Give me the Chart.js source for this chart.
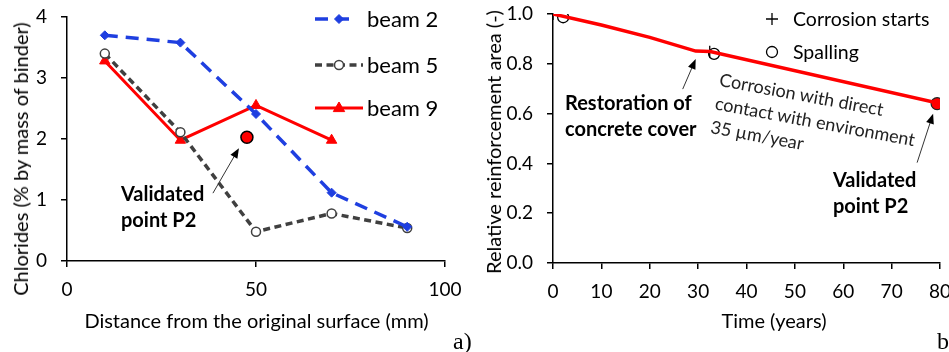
<!DOCTYPE html>
<html><head><meta charset="utf-8">
<script src="https://cdn.jsdelivr.net/npm/chart.js"></script>
<style>
html,body{margin:0;padding:0;background:#fff;}
body{width:949px;height:352px;position:relative;overflow:hidden;font-family:Lato,"Open Sans",sans-serif;color:#000;}
canvas{position:absolute;top:0;}
.t{position:absolute;white-space:nowrap;line-height:1.2;}
</style></head><body>
<canvas id="c1" width="470" height="352" style="left:0"></canvas>
<canvas id="c2" width="479" height="352" style="left:470px"></canvas>
<div id="txt"></div>
<script>
// ---------- data: chart a) ----------
const distanceMm = [10, 30, 50, 70, 90];
const beam2 = [3.70, 3.58, 2.41, 1.12, 0.56];
const beam5 = [3.40, 2.11, 0.48, 0.78, 0.54];
const distanceBeam9 = [10, 30, 50, 70];
const beam9 = [3.28, 1.98, 2.55, 1.98];
const validatedLeft = [47.6, 2.03];
const xTicksLeft = [0, 50, 100];
const yTicksLeft = [0, 1, 2, 3, 4];

// ---------- data: chart b) ----------
const timeYears = [0, 10, 20, 29.5, 32.5, 80];
const relArea = [1.0, 0.956, 0.906, 0.851, 0.849, 0.64];
const spallingTime = [2.1, 33.3];
const spallingArea = [0.987, 0.840];
const corrosionTime = [0, 32.4];
const corrosionArea = [1.0, 0.848];
const validatedRight = [79.4, 0.64];
const xTicksRight = [0, 10, 20, 30, 40, 50, 60, 70, 80];
const yTicksRight = [0, 0.2, 0.4, 0.6, 0.8, 1.0];

const FONT = 'Lato';
const pts = (xs, ys) => xs.map((x, i) => ({x, y: ys[i]}));

function drawArrow(ctx, fx, fy, tx, ty) {
  const ang = Math.atan2(ty - fy, tx - fx);
  const L = 10, W = 4;
  ctx.save();
  ctx.strokeStyle = '#333'; ctx.lineWidth = 1;
  ctx.beginPath(); ctx.moveTo(fx, fy);
  ctx.lineTo(tx - Math.cos(ang) * L * 0.8, ty - Math.sin(ang) * L * 0.8); ctx.stroke();
  ctx.fillStyle = '#000';
  ctx.beginPath();
  ctx.moveTo(tx, ty);
  ctx.lineTo(tx - L * Math.cos(ang) + W * Math.sin(ang), ty - L * Math.sin(ang) - W * Math.cos(ang));
  ctx.lineTo(tx - L * Math.cos(ang) - W * Math.sin(ang), ty - L * Math.sin(ang) + W * Math.cos(ang));
  ctx.closePath(); ctx.fill();
  ctx.restore();
}

function drawMarker(ctx, style, x, y, r, fill, stroke, lw) {
  ctx.save();
  ctx.fillStyle = fill; ctx.strokeStyle = stroke; ctx.lineWidth = lw; ctx.setLineDash([]);
  ctx.beginPath();
  if (style === 'rectRot') {
    ctx.moveTo(x, y - r); ctx.lineTo(x + r, y); ctx.lineTo(x, y + r); ctx.lineTo(x - r, y); ctx.closePath();
    ctx.fill(); ctx.stroke();
  } else if (style === 'triangle') {
    ctx.moveTo(x, y - r); ctx.lineTo(x + r * 0.95, y + r * 0.6); ctx.lineTo(x - r * 0.95, y + r * 0.6); ctx.closePath();
    ctx.fill(); ctx.stroke();
  } else if (style === 'cross') {
    ctx.moveTo(x - r, y); ctx.lineTo(x + r, y); ctx.moveTo(x, y - r); ctx.lineTo(x, y + r); ctx.stroke();
  } else {
    ctx.arc(x, y, r, 0, Math.PI * 2); if (fill !== 'transparent') ctx.fill(); ctx.stroke();
  }
  ctx.restore();
}

const annot = {
  id: 'annot',
  afterDatasetsDraw(chart, args, opts) {
    const ctx = chart.ctx, xs = chart.scales.x, ys = chart.scales.y;
    (opts.arrows || []).forEach(a => {
      const tx = xs.getPixelForValue(a.at[0]) + a.tip[0];
      const ty = ys.getPixelForValue(a.at[1]) + a.tip[1];
      drawArrow(ctx, tx + a.tail[0], ty + a.tail[1], tx, ty);
    });
    (opts.legend || []).forEach(l => {
      const ds = chart.data.datasets[l.ds];
      if (l.line) {
        ctx.save();
        ctx.strokeStyle = ds.borderColor; ctx.lineWidth = ds.borderWidth;
        ctx.setLineDash(ds.borderDash || []);
        ctx.beginPath(); ctx.moveTo(l.x0, l.y); ctx.lineTo(l.x1, l.y); ctx.stroke();
        ctx.restore();
      }
      drawMarker(ctx, ds.pointStyle, l.xm, l.y, ds.pointRadius,
        ds.pointBackgroundColor, ds.pointBorderColor, ds.pointBorderWidth);
    });
  }
};

function axisOpts(min, max, ticksArr, fmt, pad, size, isX) {
  return {
    type: 'linear', min, max,
    afterBuildTicks: s => { s.ticks = ticksArr.map(v => ({value: v})); },
    afterFit: s => {
      if (isX) { s.height = size; s.paddingLeft = 0; s.paddingRight = 0; }
      else { s.width = size; s.paddingTop = 0; s.paddingBottom = 0; }
    },
    grid: {display: true, drawOnChartArea: false, drawTicks: true, tickLength: 6, color: '#000', lineWidth: 1.5},
    border: {display: true, color: '#000', width: 1.5},
    ticks: {color: '#000', font: {family: FONT, size: 19}, padding: pad, autoSkip: false, maxRotation: 0,
      callback: fmt}
  };
}

const common = {
  responsive: false, animation: false, devicePixelRatio: 1,
  plugins: {legend: {display: false}, tooltip: {enabled: false}},
};

// ---------- chart a) ----------
const blue = '#1f3fe0', gray = '#404040', red = '#ff0000';
new Chart(document.getElementById('c1'), {
  type: 'scatter',
  data: {datasets: [
    {label: 'beam 2', data: pts(distanceMm, beam2), showLine: true, borderColor: blue, backgroundColor: blue,
      borderWidth: 3.5, borderDash: [13, 8], pointStyle: 'rectRot', pointRadius: 4.5,
      pointBackgroundColor: blue, pointBorderColor: blue, pointBorderWidth: 1},
    {label: 'beam 5', data: pts(distanceMm, beam5), showLine: true, borderColor: gray, backgroundColor: '#fff',
      borderWidth: 3.5, borderDash: [7, 4.5], pointStyle: 'circle', pointRadius: 4.5,
      pointBackgroundColor: '#fff', pointBorderColor: gray, pointBorderWidth: 1.5},
    {label: 'beam 9', data: pts(distanceBeam9, beam9), showLine: true, borderColor: red, backgroundColor: red,
      borderWidth: 3, pointStyle: 'triangle', pointRadius: 6,
      pointBackgroundColor: red, pointBorderColor: red, pointBorderWidth: 1},
    {label: 'Validated point P2', data: [{x: validatedLeft[0], y: validatedLeft[1]}], showLine: false,
      pointStyle: 'circle', pointRadius: 6, pointBackgroundColor: red, pointBorderColor: '#000', pointBorderWidth: 1.5}
  ]},
  options: Object.assign({}, common, {
    layout: {padding: {left: 0, right: 25, top: 17, bottom: 0}},
    scales: {
      x: axisOpts(0, 100, xTicksLeft, v => String(v), 11, 91, true),
      y: axisOpts(0, 4, yTicksLeft, v => String(v), 14, 67, false)
    },
    plugins: Object.assign({}, common.plugins, {
      annot: {
        arrows: [{at: validatedLeft, tip: [-8, 11], tail: [-26, 45]}],
        legend: [
          {ds: 0, line: true, x0: 315, x1: 356, xm: 339, y: 19},
          {ds: 1, line: true, x0: 315, x1: 363, xm: 339, y: 65},
          {ds: 2, line: true, x0: 315, x1: 363, xm: 339, y: 108}
        ]
      }
    })
  }),
  plugins: [annot]
});

// ---------- chart b) ----------
new Chart(document.getElementById('c2'), {
  type: 'scatter',
  data: {datasets: [
    {label: 'Relative area', data: pts(timeYears, relArea), showLine: true, borderColor: red, borderWidth: 3.5,
      pointRadius: 0, tension: 0},
    {label: 'Corrosion starts', data: pts(corrosionTime, corrosionArea), showLine: false, pointStyle: 'cross',
      pointRadius: 6, pointBackgroundColor: '#000', pointBorderColor: '#000', pointBorderWidth: 1.3},
    {label: 'Spalling', data: pts(spallingTime, spallingArea), showLine: false, pointStyle: 'circle',
      pointRadius: 5.5, pointBackgroundColor: 'transparent', pointBorderColor: '#000', pointBorderWidth: 1.3},
    {label: 'Validated point P2', data: [{x: validatedRight[0], y: validatedRight[1]}], showLine: false,
      pointStyle: 'circle', pointRadius: 6, pointBackgroundColor: red, pointBorderColor: '#222', pointBorderWidth: 1.2}
  ]},
  options: Object.assign({}, common, {
    layout: {padding: {left: 0, right: 9, top: 14, bottom: 0}},
    scales: {
      x: axisOpts(0, 80, xTicksRight, v => String(v), 11, 89, true),
      y: axisOpts(0, 1, yTicksRight, v => v.toFixed(1), 14, 83, false)
    },
    plugins: Object.assign({}, common.plugins, {
      annot: {
        arrows: [
          {at: [timeYears[3], relArea[3]], tip: [0, 8], tail: [-13, 30]},
          {at: validatedRight, tip: [-4, 10], tail: [-16, 49]}
        ],
        legend: [
          {ds: 1, line: false, xm: 302, y: 19},
          {ds: 2, line: false, xm: 302, y: 52}
        ]
      }
    })
  }),
  plugins: [annot]
});

// ---------- texts ----------
const txt = document.getElementById('txt');
function addText(str, x, y, o = {}) {
  const d = document.createElement('div');
  d.className = 't';
  d.innerHTML = str;
  const size = o.size || 20;
  d.style.fontSize = size + 'px';
  if (o.weight) d.style.fontWeight = o.weight;
  if (o.family) d.style.fontFamily = o.family;
  if (o.color) d.style.color = o.color;
  if (o.lh) d.style.lineHeight = o.lh + 'px';
  d.style.left = x + 'px';
  d.style.top = y + 'px';
  if (o.transform) { d.style.transform = o.transform; d.style.transformOrigin = o.origin || '0 0'; }
  else d.style.transform = o.center ? 'translate(-50%,-50%)' : 'translate(0,-50%)';
  txt.appendChild(d);
  return d;
}
// axis titles
addText('Chlorides (% by mass of binder)', 20, 159, {transform: 'translate(-50%,-50%) rotate(-90deg)', origin: '50% 50%'});
addText('Distance from the original surface (mm)', 256.5, 320, {center: true});
addText('Relative reinforcement area (-)', 493, 142, {transform: 'translate(-50%,-50%) rotate(-90deg)', origin: '50% 50%'});
addText('Time (years)', 774, 320, {center: true});
// legends
addText('beam 2', 367, 19, {size: 22});
addText('beam 5', 367, 65, {size: 22});
addText('beam 9', 367, 108, {size: 22});
addText('Corrosion starts', 793, 19, {size: 19.5});
addText('Spalling', 793, 52, {size: 19.5});
// annotations
addText('Validated<br>point P2', 121, 206, {weight: 700, lh: 26});
addText('Restoration of<br>concrete cover', 565, 115, {weight: 700, lh: 26});
addText('Validated<br>point P2', 833, 192, {weight: 700, lh: 26});
addText('Corrosion with direct<br>contact with environment<br>35 µm/year', 722, 67,
  {size: 18, lh: 24, color: '#222', transform: 'rotate(10.5deg)', origin: '0 0'});
// panel labels
addText('a)', 453, 341, {size: 24, family: '"Liberation Serif","DejaVu Serif",serif'});
addText('b)', 937, 341, {size: 24, family: '"Liberation Serif","DejaVu Serif",serif'});
</script>
</body></html>
